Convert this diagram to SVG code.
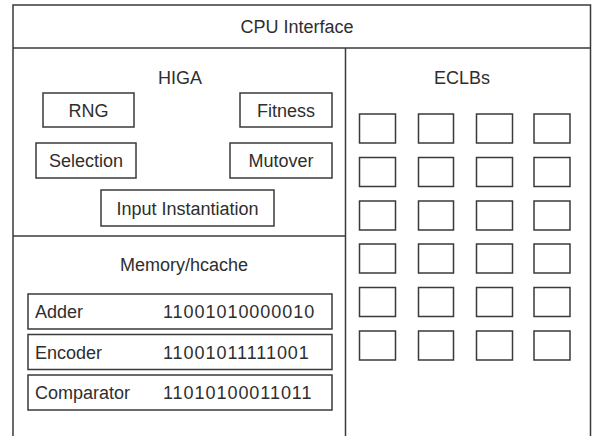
<svg xmlns="http://www.w3.org/2000/svg" width="592" height="436" viewBox="0 0 592 436">
  <style>
    .frame { fill: none; stroke: #3a3a3a; stroke-width: 1.5; }
    .box { fill: #ffffff; stroke: #3a3a3a; stroke-width: 1.5; }
    .lbl { font-family: "Liberation Sans", Arial, sans-serif; font-size: 18px; fill: #2e2e2e; }
    .mid { text-anchor: middle; }
    .bits { letter-spacing: 0.95px; }
  </style>
  <rect width="592" height="436" fill="#ffffff"/>

  <!-- outer frame, open at the bottom -->
  <g id="frame">
    <path class="frame" d="M13,436 V5 H590.5 V436"/>
    <line class="frame" x1="13" y1="48" x2="590.5" y2="48"/>
    <line class="frame" x1="345.5" y1="48" x2="345.5" y2="436"/>
    <line class="frame" x1="13" y1="236" x2="345.5" y2="236"/>
  </g>

  <g id="cpu-interface">
    <text class="lbl mid" x="297" y="33">CPU Interface</text>
  </g>

  <g id="higa">
    <text class="lbl mid" x="180" y="84">HIGA</text>
  </g>
  <g id="rng">
    <rect class="box" x="43" y="93" width="91" height="34"/>
    <text class="lbl mid" x="88.5" y="117">RNG</text>
  </g>
  <g id="fitness">
    <rect class="box" x="240" y="93" width="92" height="34"/>
    <text class="lbl mid" x="286" y="117">Fitness</text>
  </g>
  <g id="selection">
    <rect class="box" x="36" y="143" width="100" height="35"/>
    <text class="lbl mid" x="86" y="167">Selection</text>
  </g>
  <g id="mutover">
    <rect class="box" x="230" y="143" width="102" height="35"/>
    <text class="lbl mid" x="281" y="167">Mutover</text>
  </g>
  <g id="input-instantiation">
    <rect class="box" x="101" y="190" width="173" height="36"/>
    <text class="lbl mid" x="187.5" y="215">Input Instantiation</text>
  </g>

  <g id="memory-hcache">
    <text class="lbl mid" x="184" y="271">Memory/hcache</text>
  </g>
  <g id="adder">
    <rect class="box" x="28" y="294" width="304" height="35"/>
    <text class="lbl" x="35" y="318">Adder</text>
    <text class="lbl bits" x="163" y="318">11001010000010</text>
  </g>
  <g id="encoder">
    <rect class="box" x="28" y="334.5" width="304" height="35"/>
    <text class="lbl" x="35" y="359">Encoder</text>
    <text class="lbl bits" x="163" y="359">11001011111001</text>
  </g>
  <g id="comparator">
    <rect class="box" x="28" y="375" width="304" height="35"/>
    <text class="lbl" x="35" y="399">Comparator</text>
    <text class="lbl bits" x="163" y="399">11010100011011</text>
  </g>

  <g id="eclbs">
    <text class="lbl mid" x="462" y="84">ECLBs</text>
    <g id="eclb-grid">
      <rect class="box" x="359.5" y="114" width="36" height="29"/>
      <rect class="box" x="418.5" y="114" width="35" height="29"/>
      <rect class="box" x="476.5" y="114" width="36" height="29"/>
      <rect class="box" x="534" y="114" width="36" height="29"/>
      <rect class="box" x="359.5" y="157.5" width="36" height="29"/>
      <rect class="box" x="418.5" y="157.5" width="35" height="29"/>
      <rect class="box" x="476.5" y="157.5" width="36" height="29"/>
      <rect class="box" x="534" y="157.5" width="36" height="29"/>
      <rect class="box" x="359.5" y="201" width="36" height="29"/>
      <rect class="box" x="418.5" y="201" width="35" height="29"/>
      <rect class="box" x="476.5" y="201" width="36" height="29"/>
      <rect class="box" x="534" y="201" width="36" height="29"/>
      <rect class="box" x="359.5" y="244" width="36" height="29"/>
      <rect class="box" x="418.5" y="244" width="35" height="29"/>
      <rect class="box" x="476.5" y="244" width="36" height="29"/>
      <rect class="box" x="534" y="244" width="36" height="29"/>
      <rect class="box" x="359.5" y="287.5" width="36" height="29"/>
      <rect class="box" x="418.5" y="287.5" width="35" height="29"/>
      <rect class="box" x="476.5" y="287.5" width="36" height="29"/>
      <rect class="box" x="534" y="287.5" width="36" height="29"/>
      <rect class="box" x="359.5" y="331" width="36" height="29"/>
      <rect class="box" x="418.5" y="331" width="35" height="29"/>
      <rect class="box" x="476.5" y="331" width="36" height="29"/>
      <rect class="box" x="534" y="331" width="36" height="29"/>
    </g>
  </g>
</svg>
